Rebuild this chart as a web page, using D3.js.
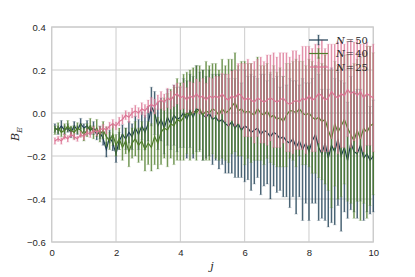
<!DOCTYPE html>
<html><head><meta charset="utf-8">
<script src="https://cdn.jsdelivr.net/npm/d3@7/dist/d3.min.js"></script>
<style>body{margin:0;background:#fff}svg{display:block}</style>
</head><body><svg id="c" width="415" height="277"></svg>
<script>
const jValues = d3.range(1, 101).map(i => +(i / 10).toFixed(1));
const xTicks = [0, 2, 4, 6, 8, 10];
const yTicks = [-0.6, -0.4, -0.2, 0.0, 0.2, 0.4];
const seriesNames = ["N = 50", "N = 40", "N = 25"];
const seriesColors = ["#1d3d53", "#4f7d2b", "#dc7595"];

const meanN50 = [
 -0.07,-0.08,-0.06,-0.08,-0.07,-0.09,-0.06,-0.08,-0.05,-0.07,
 -0.06,-0.08,-0.07,-0.10,-0.09,-0.12,-0.17,-0.11,-0.14,-0.19,
 -0.13,-0.10,-0.12,-0.09,-0.11,-0.07,-0.10,-0.06,-0.09,-0.05,
 0.03,0.00,-0.06,-0.03,-0.07,-0.02,-0.05,-0.01,-0.03,-0.02,
 0.00,-0.03,0.01,-0.02,0.02,0.01,-0.01,-0.02,0.00,-0.03,
 -0.02,-0.04,-0.03,-0.05,-0.06,-0.04,-0.07,-0.05,-0.08,-0.06,
 -0.07,-0.09,-0.08,-0.07,-0.10,-0.08,-0.09,-0.11,-0.09,-0.10,
 -0.12,-0.11,-0.13,-0.14,-0.12,-0.16,-0.13,-0.17,-0.14,-0.18,
 -0.13,-0.10,-0.16,-0.19,-0.14,-0.21,-0.15,-0.18,-0.12,-0.20,
 -0.16,-0.22,-0.14,-0.18,-0.19,-0.15,-0.21,-0.19,-0.22,-0.20];
const errN50 = [
 0.02,0.02,0.025,0.02,0.02,0.025,0.02,0.02,0.025,0.02,
 0.025,0.02,0.03,0.025,0.03,0.03,0.035,0.03,0.035,0.04,
 0.04,0.045,0.05,0.05,0.06,0.055,0.07,0.065,0.08,0.08,
 0.09,0.1,0.11,0.1,0.12,0.13,0.12,0.14,0.15,0.14,
 0.16,0.18,0.17,0.19,0.2,0.18,0.21,0.19,0.2,0.21,
 0.2,0.22,0.21,0.23,0.22,0.24,0.23,0.25,0.22,0.26,
 0.24,0.27,0.25,0.23,0.28,0.26,0.24,0.29,0.25,0.27,
 0.24,0.28,0.26,0.3,0.27,0.31,0.26,0.33,0.28,0.32,
 0.29,0.32,0.34,0.3,0.36,0.32,0.36,0.34,0.31,0.35,
 0.3,0.27,0.31,0.28,0.3,0.26,0.29,0.27,0.25,0.26];

const meanN40 = [
 -0.08,-0.07,-0.09,-0.08,-0.06,-0.08,-0.09,-0.07,-0.08,-0.10,
 -0.08,-0.06,-0.09,-0.07,-0.10,-0.08,-0.11,-0.13,-0.10,-0.15,
 -0.12,-0.16,-0.13,-0.18,-0.14,-0.12,-0.15,-0.13,-0.17,-0.14,
 -0.16,-0.11,-0.14,-0.09,-0.07,-0.08,-0.05,-0.06,-0.03,-0.04,
 -0.02,0.00,-0.01,0.01,0.00,0.02,-0.01,0.01,0.00,0.02,
 0.01,-0.01,0.02,0.00,0.01,0.03,0.05,0.01,0.02,0.00,
 0.01,0.00,-0.01,0.02,0.00,-0.01,0.01,-0.02,-0.01,-0.03,
 -0.02,-0.04,-0.01,0.01,0.01,0.00,0.02,0.00,-0.01,0.00,
 -0.02,-0.03,-0.02,-0.04,-0.03,-0.08,-0.12,-0.05,-0.09,-0.06,
 -0.03,-0.07,-0.10,-0.13,-0.08,-0.12,-0.07,-0.09,-0.06,-0.05];
const errN40 = [
 0.02,0.025,0.02,0.03,0.025,0.02,0.03,0.025,0.03,0.03,
 0.03,0.035,0.03,0.04,0.035,0.04,0.045,0.04,0.05,0.05,
 0.05,0.06,0.06,0.07,0.07,0.08,0.08,0.09,0.1,0.1,
 0.11,0.13,0.12,0.15,0.14,0.17,0.16,0.18,0.19,0.18,
 0.2,0.19,0.21,0.2,0.22,0.2,0.21,0.23,0.22,0.21,
 0.22,0.21,0.23,0.22,0.24,0.22,0.23,0.21,0.22,0.24,
 0.22,0.23,0.21,0.24,0.22,0.23,0.22,0.21,0.23,0.22,
 0.23,0.21,0.24,0.22,0.23,0.25,0.22,0.24,0.23,0.25,
 0.26,0.25,0.28,0.27,0.3,0.28,0.32,0.29,0.31,0.33,
 0.3,0.34,0.32,0.36,0.33,0.38,0.35,0.4,0.37,0.33];

const meanN25 = [
 -0.13,-0.12,-0.13,-0.11,-0.12,-0.10,-0.11,-0.12,-0.10,-0.11,
 -0.09,-0.10,-0.08,-0.09,-0.08,-0.07,-0.08,-0.06,-0.05,-0.06,
 -0.04,-0.03,-0.01,-0.02,0.00,0.01,0.00,0.02,0.01,0.03,
 0.04,0.03,0.05,0.06,0.05,0.07,0.06,0.08,0.09,0.07,
 0.08,0.06,0.08,0.07,0.09,0.07,0.08,0.06,0.08,0.07,
 0.08,0.07,0.09,0.07,0.06,0.08,0.07,0.09,0.08,0.06,
 0.07,0.06,0.05,0.07,0.06,0.05,0.06,0.07,0.06,0.05,
 0.06,0.07,0.05,0.04,0.05,0.06,0.05,0.07,0.06,0.08,
 0.06,0.07,0.09,0.08,0.06,0.07,0.10,0.08,0.07,0.09,
 0.08,0.11,0.09,0.10,0.08,0.10,0.07,0.09,0.08,0.07];
const errN25 = [
 0.015,0.012,0.015,0.012,0.015,0.013,0.015,0.012,0.014,0.015,
 0.015,0.014,0.016,0.015,0.017,0.016,0.018,0.017,0.02,0.018,
 0.02,0.022,0.021,0.024,0.023,0.026,0.025,0.028,0.03,0.03,
 0.032,0.035,0.034,0.04,0.038,0.045,0.042,0.05,0.048,0.055,
 0.06,0.058,0.065,0.07,0.068,0.075,0.08,0.078,0.085,0.09,
 0.09,0.1,0.095,0.11,0.12,0.115,0.13,0.14,0.15,0.17,
 0.18,0.17,0.19,0.18,0.2,0.19,0.21,0.2,0.22,0.21,
 0.22,0.21,0.23,0.22,0.24,0.23,0.22,0.24,0.25,0.23,
 0.24,0.25,0.23,0.26,0.24,0.25,0.22,0.24,0.26,0.25,
 0.24,0.22,0.25,0.23,0.26,0.22,0.25,0.24,0.23,0.25];

const seriesMeans = [meanN50, meanN40, meanN25];
const seriesErrs = [errN50, errN40, errN25];

const svg = d3.select("#c");
const x = d3.scaleLinear().domain([0, 10]).range([51.7, 373.3]);
const y = d3.scaleLinear().domain([-0.6, 0.4]).range([242, 27]);
const grid = "#cccccc", txt = "#262626";

// grid
svg.append("g").selectAll("line").data(xTicks).join("line")
  .attr("x1", d => x(d)).attr("x2", d => x(d)).attr("y1", y(-0.6)).attr("y2", y(0.4))
  .attr("stroke", grid).attr("stroke-width", 1);
svg.append("g").selectAll("line").data(yTicks).join("line")
  .attr("y1", d => y(d)).attr("y2", d => y(d)).attr("x1", x(0)).attr("x2", x(10))
  .attr("stroke", grid).attr("stroke-width", 1);
svg.append("rect").attr("x", x(0)).attr("y", y(0.4)).attr("width", x(10) - x(0)).attr("height", y(-0.6) - y(0.4))
  .attr("fill", "none").attr("stroke", grid).attr("stroke-width", 1.25);

// axes (labels only)
const fmt = d => (d < 0 ? "\u2212" : "") + Math.abs(d).toFixed(1);
const yAxis = d3.axisLeft(y).tickValues(yTicks).tickSize(0).tickPadding(6).tickFormat(fmt);
const gy = svg.append("g").attr("transform", `translate(${x(0)},0)`).call(yAxis);
const xAxis = d3.axisBottom(x).tickValues(xTicks).tickSize(0).tickPadding(7).tickFormat(d3.format("d"));
const gx = svg.append("g").attr("transform", `translate(0,${y(-0.6)})`).call(xAxis);
[gx, gy].forEach(g => {
  g.select(".domain").remove();
  g.selectAll("text").attr("fill", txt).style("font-family", "'Liberation Sans', Arial, sans-serif").style("font-size", "9.5px");
});

// series
const line = d3.line().x((d, i) => x(jValues[i])).y(d => y(d));
const cap = 1.8;
seriesMeans.forEach((means, s) => {
  const errs = seriesErrs[s];
  const col = seriesColors[s];
  const g = svg.append("g");
  const eb = g.append("g").attr("stroke", col);
  means.forEach((m, i) => {
    const cx = x(jValues[i]), y1 = y(m - errs[i]), y2 = y(m + errs[i]);
    eb.append("line").attr("x1", cx).attr("x2", cx).attr("y1", y1).attr("y2", y2)
      .attr("stroke-width", 1.5).attr("stroke-opacity", 0.8);
    eb.append("line").attr("x1", cx - cap).attr("x2", cx + cap).attr("y1", y1).attr("y2", y1)
      .attr("stroke-width", 0.6).attr("stroke-opacity", 0.35);
    eb.append("line").attr("x1", cx - cap).attr("x2", cx + cap).attr("y1", y2).attr("y2", y2)
      .attr("stroke-width", 0.6).attr("stroke-opacity", 0.35);
  });
  g.append("path").datum(means).attr("d", line).attr("fill", "none").attr("stroke", col).attr("stroke-width", 1.2);
});

// legend
const leg = svg.append("g");
seriesNames.forEach((name, s) => {
  const ly = 40 + s * 13.5;
  const col = seriesColors[s];
  const g = leg.append("g");
  g.append("line").attr("x1", 309).attr("x2", 328).attr("y1", ly).attr("y2", ly).attr("stroke", col).attr("stroke-width", 1.2);
  g.append("line").attr("x1", 318.5).attr("x2", 318.5).attr("y1", ly - 5).attr("y2", ly + 5).attr("stroke", col).attr("stroke-opacity", 0.8).attr("stroke-width", 1.5);
  g.append("line").attr("x1", 316.7).attr("x2", 320.3).attr("y1", ly - 5).attr("y2", ly - 5).attr("stroke", col).attr("stroke-opacity", 0.35).attr("stroke-width", 0.6);
  g.append("line").attr("x1", 316.7).attr("x2", 320.3).attr("y1", ly + 5).attr("y2", ly + 5).attr("stroke", col).attr("stroke-opacity", 0.35).attr("stroke-width", 0.6);
  const parts = name.split(" = ");
  const t = g.append("text").attr("x", 336).attr("y", ly + 3.5).attr("fill", txt)
    .style("font-family", "'DejaVu Serif', serif").style("font-size", "10px");
  t.append("tspan").style("font-style", "italic").text(parts[0]);
  t.append("tspan").text("=").attr("dx", 1);
  t.append("tspan").text(parts[1]).attr("dx", 1);
});

// axis labels
svg.append("text").attr("x", 212).attr("y", 270).attr("text-anchor", "middle").attr("fill", txt)
  .style("font-family", "'DejaVu Serif', serif").style("font-style", "italic").style("font-size", "11px").text("j");
const yl = svg.append("text").attr("transform", "translate(19,134) rotate(-90)").attr("text-anchor", "middle").attr("fill", txt)
  .style("font-family", "'DejaVu Serif', serif").style("font-size", "11px");
yl.append("tspan").style("font-style", "italic").text("B");
yl.append("tspan").style("font-style", "italic").style("font-size", "8px").attr("dy", 2.5).text("E");
</script></body></html>
